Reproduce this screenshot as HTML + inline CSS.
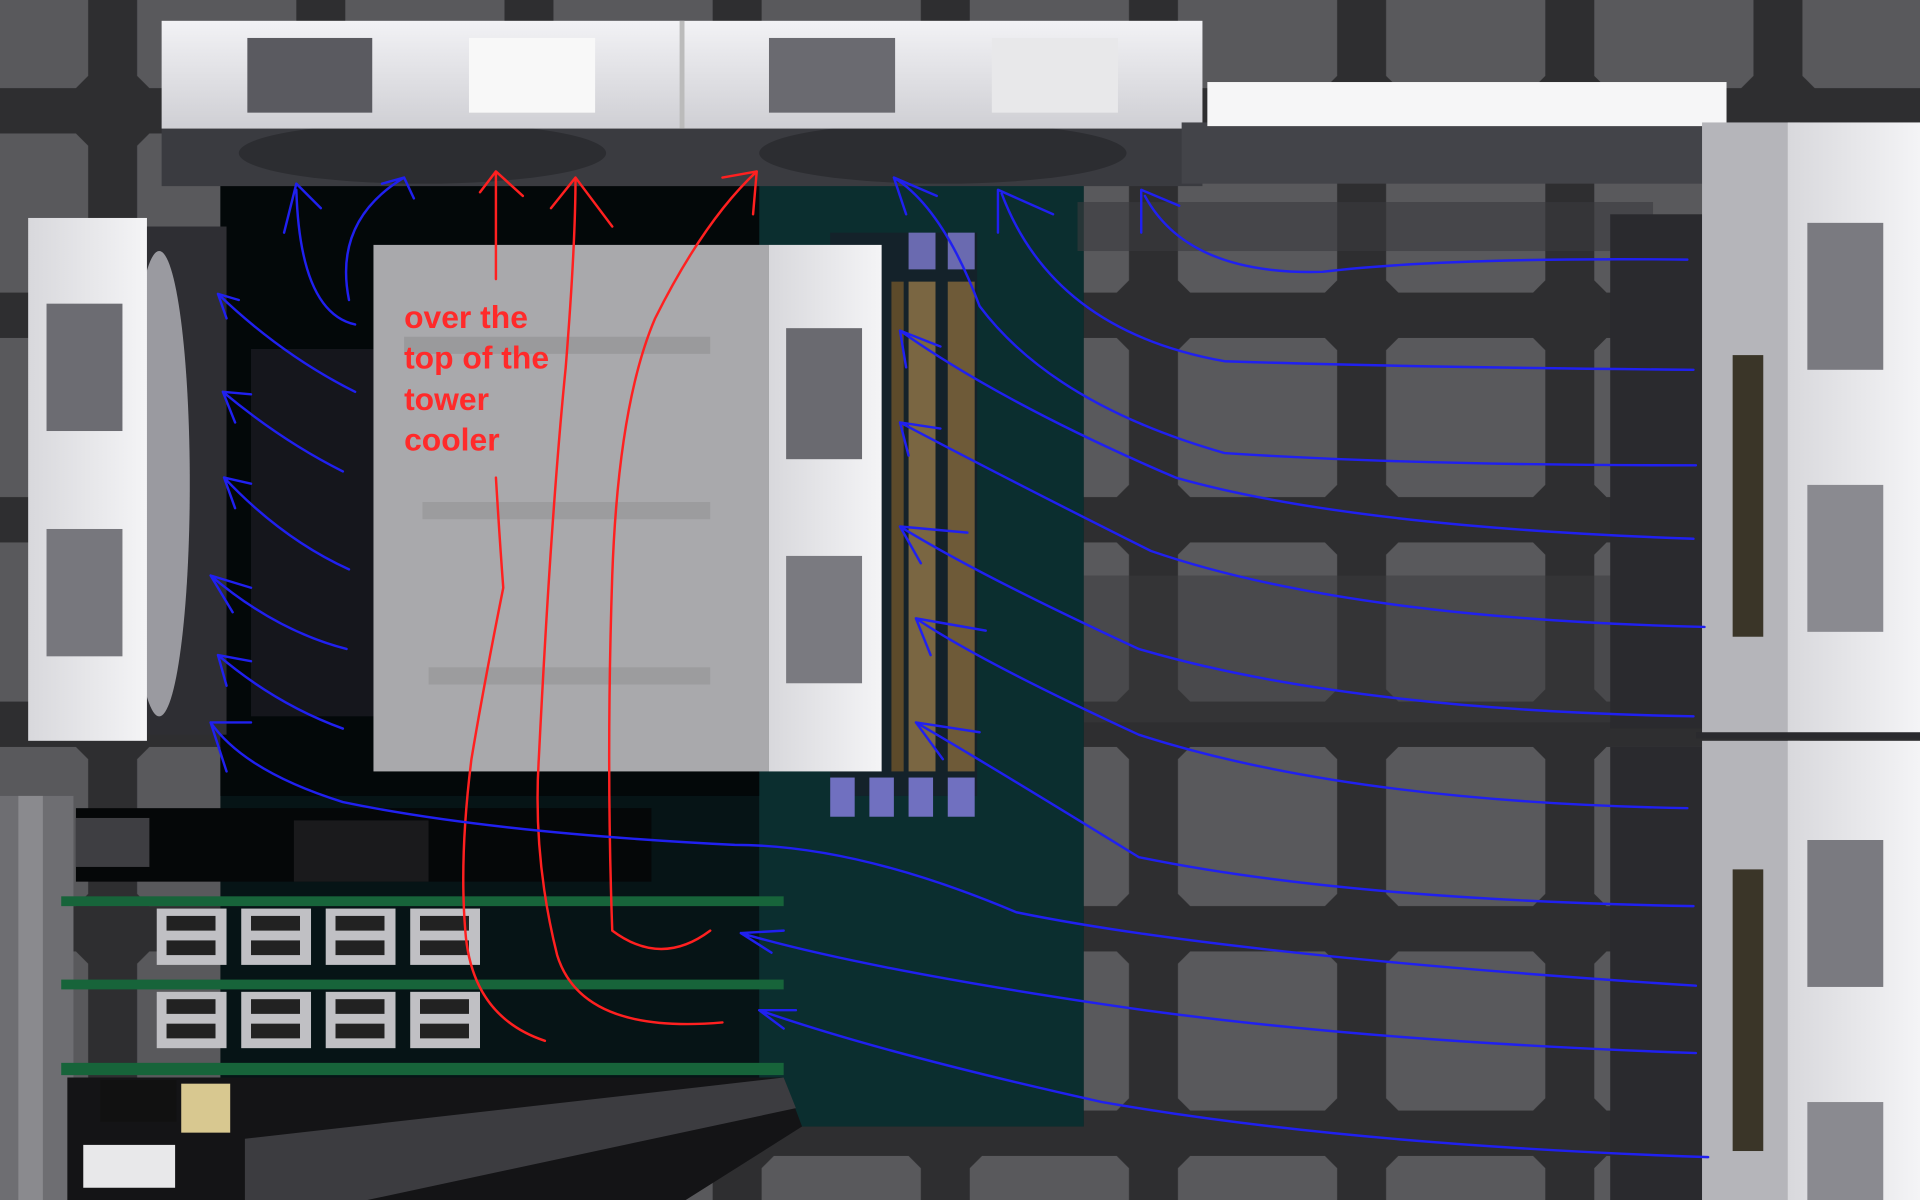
<!DOCTYPE html>
<html><head><meta charset="utf-8"><style>
html,body{margin:0;padding:0;background:#3a3a3c;overflow:hidden}
svg{display:block}
</style></head><body>
<svg width="1920" height="1200" viewBox="0 0 1568 980" xmlns="http://www.w3.org/2000/svg">
<defs>
<pattern id="grid" x="-88" y="-78" width="170" height="167" patternUnits="userSpaceOnUse">
<rect width="170" height="167" fill="#2e2e30"/>
<polygon points="40,20 150,20 160,30 160,140 150,150 40,150 30,140 30,30" fill="#59595c"/>
</pattern>
<linearGradient id="wf" x1="0" y1="0" x2="0" y2="1"><stop offset="0" stop-color="#f2f2f5"/><stop offset="1" stop-color="#cfcfd4"/></linearGradient>
<linearGradient id="wfv" x1="0" y1="0" x2="1" y2="0"><stop offset="0" stop-color="#d8d8dc"/><stop offset="1" stop-color="#f4f4f6"/></linearGradient>
</defs>
<rect width="1568" height="980" fill="url(#grid)"/>
<rect x="885" y="470" width="500" height="120" fill="#3a3a3c" opacity="0.5"/>
<!-- motherboard -->
<rect x="180" y="150" width="705" height="770" fill="#061416"/>
<rect x="620" y="150" width="265" height="770" fill="#0b2e2f"/>
<rect x="180" y="150" width="440" height="500" fill="#030809"/>
<rect x="205" y="285" width="100" height="300" fill="#15161c"/>
<!-- top fans -->
<rect x="132" y="100" width="850" height="52" fill="#3a3b40"/>
<ellipse cx="345" cy="125" rx="150" ry="25" fill="#2c2d31"/>
<ellipse cx="770" cy="125" rx="150" ry="25" fill="#2c2d31"/>
<rect x="132" y="17" width="425" height="88" fill="url(#wf)"/>
<rect x="557" y="17" width="425" height="88" fill="url(#wf)"/>
<rect x="555" y="17" width="4" height="88" fill="#bbb"/>
<rect x="202" y="31" width="102" height="61" fill="#5a5a60"/>
<rect x="383" y="31" width="103" height="61" fill="#f8f8f8"/>
<rect x="628" y="31" width="103" height="61" fill="#6a6a70"/>
<rect x="810" y="31" width="103" height="61" fill="#e8e8ea"/>
<rect x="965" y="100" width="430" height="50" fill="#434449"/>
<rect x="986" y="67" width="424" height="36" fill="#f6f6f7"/>
<rect x="880" y="165" width="470" height="40" fill="#3a3a3e" opacity="0.6"/>
<!-- left fan -->
<rect x="115" y="185" width="70" height="415" fill="#2e2e33"/>
<ellipse cx="130" cy="395" rx="25" ry="190" fill="#9a9aa0"/>
<rect x="23" y="178" width="97" height="427" fill="url(#wfv)"/>
<rect x="38" y="248" width="62" height="104" fill="#6c6c72"/>
<rect x="38" y="432" width="62" height="104" fill="#77777d"/>
<!-- right fans -->
<rect x="1315" y="175" width="75" height="420" fill="#2a2a2e"/>
<rect x="1315" y="610" width="75" height="370" fill="#2a2a2e"/>
<rect x="1390" y="100" width="80" height="500" fill="#b5b5ba"/>
<rect x="1390" y="605" width="80" height="375" fill="#b5b5ba"/>
<rect x="1415" y="290" width="25" height="230" fill="#3a3528"/>
<rect x="1415" y="710" width="25" height="230" fill="#3a3528"/>
<rect x="1460" y="100" width="108" height="500" fill="url(#wfv)"/>
<rect x="1460" y="605" width="108" height="375" fill="url(#wfv)"/>
<rect x="1385" y="598" width="183" height="5" fill="#2a2a2e"/>
<rect x="1476" y="182" width="62" height="120" fill="#7a7a80"/>
<rect x="1476" y="396" width="62" height="120" fill="#8a8a90"/>
<rect x="1476" y="686" width="62" height="120" fill="#7a7a80"/>
<rect x="1476" y="900" width="62" height="80" fill="#8a8a90"/>
<!-- RAM -->
<rect x="678" y="190" width="120" height="460" fill="#14222a"/>
<rect x="678" y="635" width="20" height="32" fill="#7070c0"/>
<rect x="710" y="635" width="20" height="32" fill="#7070c0"/>
<rect x="742" y="635" width="20" height="32" fill="#7070c0"/>
<rect x="774" y="635" width="22" height="32" fill="#7070c0"/>
<rect x="742" y="190" width="22" height="30" fill="#6a6ab0"/>
<rect x="774" y="190" width="22" height="30" fill="#6a6ab0"/>
<rect x="728" y="230" width="10" height="400" fill="#5c4a2a"/>
<rect x="742" y="230" width="22" height="400" fill="#7a6642"/>
<rect x="774" y="230" width="22" height="400" fill="#6e5a38"/>
<!-- tower cooler -->
<rect x="305" y="200" width="323" height="430" fill="#a9a9ac"/>
<rect x="330" y="275" width="250" height="14" fill="#9a9a9c"/>
<rect x="345" y="410" width="235" height="14" fill="#9c9c9e"/>
<rect x="350" y="545" width="230" height="14" fill="#9c9c9e"/>
<rect x="628" y="200" width="92" height="430" fill="url(#wfv)"/>
<rect x="642" y="268" width="62" height="107" fill="#6a6a70"/>
<rect x="642" y="454" width="62" height="104" fill="#7a7a80"/>
<!-- bottom left -->
<rect x="0" y="650" width="60" height="330" fill="#6e6e72"/>
<rect x="15" y="650" width="20" height="330" fill="#8a8a8e"/>
<rect x="62" y="660" width="470" height="60" fill="#050708"/>
<rect x="62" y="668" width="60" height="40" fill="#3e3e42"/>
<rect x="240" y="670" width="110" height="50" fill="#1a1a1c"/>
<rect x="50" y="732" width="590" height="8" fill="#17643a"/>
<rect x="50" y="800" width="590" height="8" fill="#17643a"/>
<rect x="50" y="868" width="590" height="10" fill="#17643a"/>
<g fill="#c0c0c4">
<rect x="128" y="742" width="57" height="46"/><rect x="197" y="742" width="57" height="46"/><rect x="266" y="742" width="57" height="46"/><rect x="335" y="742" width="57" height="46"/>
<rect x="128" y="810" width="57" height="46"/><rect x="197" y="810" width="57" height="46"/><rect x="266" y="810" width="57" height="46"/><rect x="335" y="810" width="57" height="46"/>
</g>
<g fill="#222">
<rect x="136" y="748" width="40" height="12"/><rect x="205" y="748" width="40" height="12"/><rect x="274" y="748" width="40" height="12"/><rect x="343" y="748" width="40" height="12"/>
<rect x="136" y="768" width="40" height="12"/><rect x="205" y="768" width="40" height="12"/><rect x="274" y="768" width="40" height="12"/><rect x="343" y="768" width="40" height="12"/>
<rect x="136" y="816" width="40" height="12"/><rect x="205" y="816" width="40" height="12"/><rect x="274" y="816" width="40" height="12"/><rect x="343" y="816" width="40" height="12"/>
<rect x="136" y="836" width="40" height="12"/><rect x="205" y="836" width="40" height="12"/><rect x="274" y="836" width="40" height="12"/><rect x="343" y="836" width="40" height="12"/>
</g>
<polygon points="55,880 640,880 655,920 560,980 55,980" fill="#141416"/>
<polygon points="200,930 640,880 650,905 300,980 200,980" fill="#3c3c40"/>
<rect x="82" y="882" width="62" height="34" fill="#111"/>
<rect x="148" y="885" width="40" height="40" fill="#d8c890"/>
<rect x="68" y="935" width="75" height="35" fill="#e8e8ea"/>
<!-- red -->
<g fill="none" stroke="#ff2020" stroke-width="2" stroke-linejoin="round" stroke-linecap="round">
<path d="M405,228 L405,140 M392,157 L405,140 L427,160"/>
<path d="M405,390 Q408,440 411,480 Q395,560 385,620 Q375,700 380,760 Q385,830 445,850"/>
<path d="M590,835 Q475,845 455,780 Q435,700 440,620 Q450,420 462,300 Q470,200 470,145 M450,170 L470,145 L500,185"/>
<path d="M580,760 Q540,790 500,760 Q495,620 500,470 Q505,330 535,260 Q575,180 618,140 M590,145 L618,140 L615,175"/>
</g>
<text font-family="Liberation Sans, sans-serif" font-size="26" font-weight="bold" fill="#ff2a2a"><tspan x="330" y="268">over the</tspan><tspan x="330" y="301">top of the</tspan><tspan x="330" y="335">tower</tspan><tspan x="330" y="368">cooler</tspan></text>
<!-- blue -->
<g fill="none" stroke="#2020f0" stroke-width="2" stroke-linejoin="round" stroke-linecap="round">
<path d="M1378,212 Q1180,210 1080,222 Q970,225 935,160 M932,190 L932,155 L963,168"/>
<path d="M1383,302 Q1150,300 1000,295 Q860,270 818,158 M815,190 L815,155 L860,175"/>
<path d="M1385,380 Q1150,380 1000,370 Q860,330 800,250 Q770,170 730,145 M740,175 L730,145 L765,160"/>
<path d="M1383,440 Q1100,430 960,390 Q820,330 735,270 M740,300 L735,270 L768,283"/>
<path d="M1392,512 Q1100,505 940,450 Q820,390 735,345 M742,372 L735,345 L768,350"/>
<path d="M1383,585 Q1100,580 930,530 Q800,470 735,430 M752,460 L735,430 L790,435"/>
<path d="M1378,660 Q1100,655 930,600 Q800,540 748,505 M760,535 L748,505 L805,515"/>
<path d="M1383,740 Q1100,735 930,700 Q800,620 748,590 M770,620 L748,590 L800,598"/>
<path d="M1385,805 Q1000,780 830,745 Q700,690 600,690 Q400,680 280,655 Q200,630 172,590 M185,630 L172,590 L205,590"/>
<path d="M1385,860 Q1100,850 900,820 Q700,790 605,762 M640,760 L605,762 L630,778"/>
<path d="M1395,945 Q1100,935 900,900 Q720,860 620,825 M650,825 L620,825 L640,840"/>
<path d="M290,265 Q245,255 242,155 M232,190 L242,150 L262,170"/>
<path d="M285,245 Q272,180 330,145 M312,150 L330,145 L338,162"/>
<path d="M290,320 Q230,290 178,240 M195,245 L178,240 L185,260"/>
<path d="M280,385 Q230,360 182,320 M205,322 L182,320 L192,345"/>
<path d="M285,465 Q230,440 183,390 M205,395 L183,390 L192,415"/>
<path d="M283,530 Q225,515 172,470 M205,480 L172,470 L190,500"/>
<path d="M280,595 Q225,575 178,535 M205,540 L178,535 L185,560"/>
</g>
</svg>
</body></html>
